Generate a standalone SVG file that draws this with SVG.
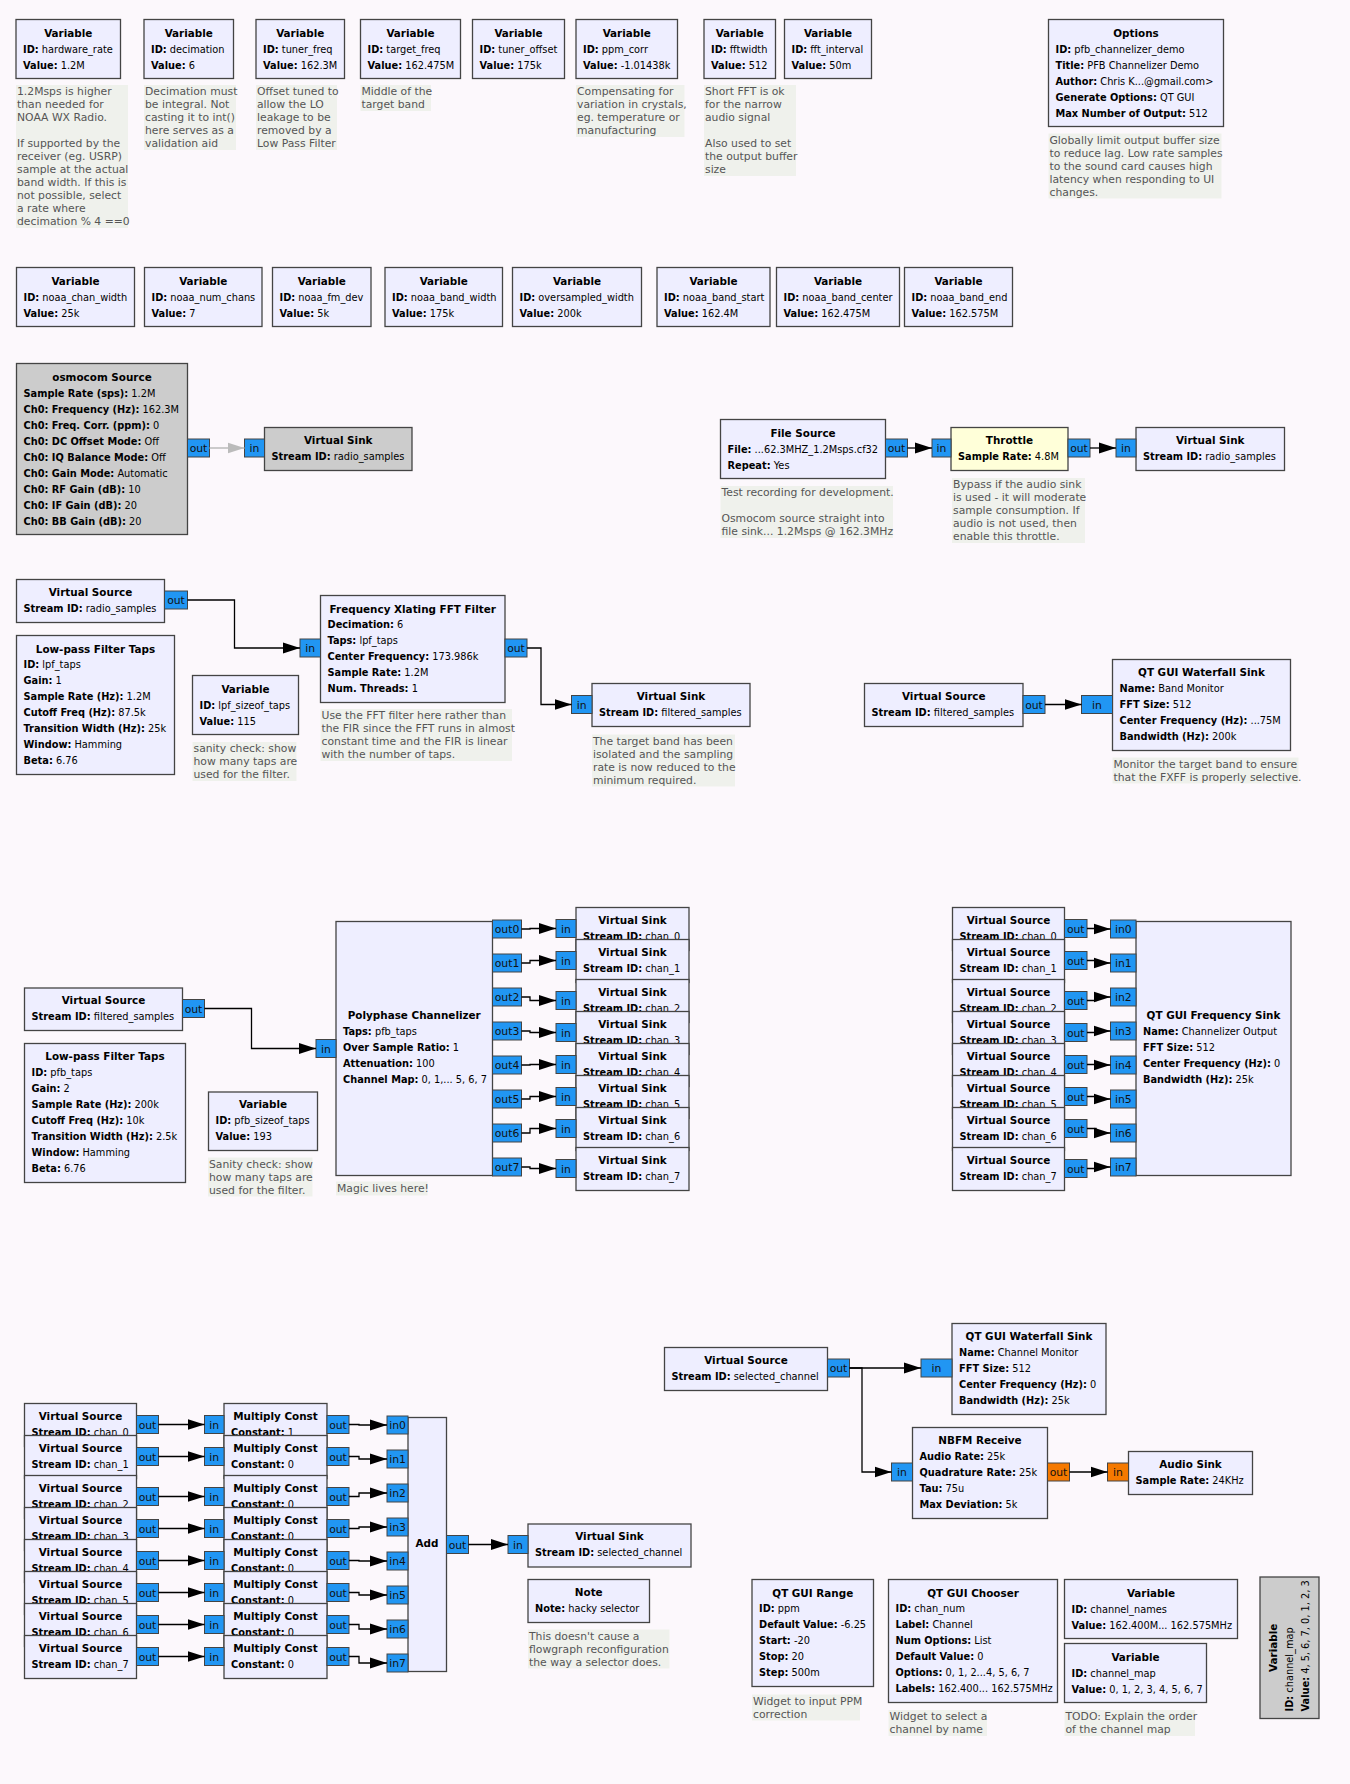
<svg xmlns="http://www.w3.org/2000/svg" width="1350" height="1784" viewBox="0 0 1350 1784">
<defs>
<style>
text{font-family:"DejaVu Sans","Liberation Sans",sans-serif}
.b{fill:#eeeeff;stroke:#444;stroke-width:1.3}
.g{fill:#cccccc;stroke:#444;stroke-width:1.3}
.y{fill:#ffffd9;stroke:#444;stroke-width:1.3}
.t{font-size:10.4px;font-weight:bold;text-anchor:middle;fill:#000}
.p{font-size:9.8px;fill:#000}
.k{font-weight:bold}
.pt{fill:#2196f3;stroke:#444;stroke-width:1}
.po{fill:#f57900;stroke:#444;stroke-width:1}
.pl{font-size:10.8px;text-anchor:middle;fill:#111}
.cb{fill:#eff1ec}
.ct{font-size:10.8px;fill:#555}
.w{fill:none;stroke:#000;stroke-width:1.3;marker-end:url(#a)}
.wg{fill:none;stroke:#bbb;stroke-width:1.3;marker-end:url(#ag)}
</style>
<marker id="a" markerUnits="userSpaceOnUse" markerWidth="18" markerHeight="12" refX="17" refY="6" orient="auto" viewBox="0 0 18 12"><path d="M0,0.5 L17,6 L0,11.5 z" fill="#000"/></marker>
<marker id="ag" markerUnits="userSpaceOnUse" markerWidth="18" markerHeight="12" refX="17" refY="6" orient="auto" viewBox="0 0 18 12"><path d="M0,0.5 L17,6 L0,11.5 z" fill="#bbb"/></marker>
</defs>
<rect x="0" y="0" width="1350" height="1784" fill="#fcf8fc"/>

<!-- Row 1 variables -->
<g id="var_hardware_rate"><rect class="b" x="16" y="19.5" width="104.5" height="59"/><text class="t" x="68.25" y="36.5">Variable</text><text class="p" x="23" y="52.5"><tspan class="k">ID:</tspan> hardware_rate</text><text class="p" x="23" y="68.5"><tspan class="k">Value:</tspan> 1.2M</text></g>
<g id="var_decimation"><rect class="b" x="144" y="19.5" width="89.5" height="59"/><text class="t" x="188.75" y="36.5">Variable</text><text class="p" x="151" y="52.5"><tspan class="k">ID:</tspan> decimation</text><text class="p" x="151" y="68.5"><tspan class="k">Value:</tspan> 6</text></g>
<g id="var_tuner_freq"><rect class="b" x="256" y="19.5" width="88.5" height="59"/><text class="t" x="300.25" y="36.5">Variable</text><text class="p" x="263" y="52.5"><tspan class="k">ID:</tspan> tuner_freq</text><text class="p" x="263" y="68.5"><tspan class="k">Value:</tspan> 162.3M</text></g>
<g id="var_target_freq"><rect class="b" x="360.5" y="19.5" width="100" height="59"/><text class="t" x="410.5" y="36.5">Variable</text><text class="p" x="367.5" y="52.5"><tspan class="k">ID:</tspan> target_freq</text><text class="p" x="367.5" y="68.5"><tspan class="k">Value:</tspan> 162.475M</text></g>
<g id="var_tuner_offset"><rect class="b" x="472.5" y="19.5" width="92" height="59"/><text class="t" x="518.5" y="36.5">Variable</text><text class="p" x="479.5" y="52.5"><tspan class="k">ID:</tspan> tuner_offset</text><text class="p" x="479.5" y="68.5"><tspan class="k">Value:</tspan> 175k</text></g>
<g id="var_ppm_corr"><rect class="b" x="576" y="19.5" width="101.5" height="59"/><text class="t" x="626.75" y="36.5">Variable</text><text class="p" x="583" y="52.5"><tspan class="k">ID:</tspan> ppm_corr</text><text class="p" x="583" y="68.5"><tspan class="k">Value:</tspan> -1.01438k</text></g>
<g id="var_fftwidth"><rect class="b" x="704" y="19.5" width="71.5" height="59"/><text class="t" x="739.75" y="36.5">Variable</text><text class="p" x="711" y="52.5"><tspan class="k">ID:</tspan> fftwidth</text><text class="p" x="711" y="68.5"><tspan class="k">Value:</tspan> 512</text></g>
<g id="var_fft_interval"><rect class="b" x="784.5" y="19.5" width="87" height="59"/><text class="t" x="828" y="36.5">Variable</text><text class="p" x="791.5" y="52.5"><tspan class="k">ID:</tspan> fft_interval</text><text class="p" x="791.5" y="68.5"><tspan class="k">Value:</tspan> 50m</text></g>
<g id="options"><rect class="b" x="1048.5" y="19.5" width="175" height="107"/><text class="t" x="1136" y="36.5">Options</text><text class="p" x="1055.5" y="52.5"><tspan class="k">ID:</tspan> pfb_channelizer_demo</text><text class="p" x="1055.5" y="68.5"><tspan class="k">Title:</tspan> PFB Channelizer Demo</text><text class="p" x="1055.5" y="84.5"><tspan class="k">Author:</tspan> Chris K...@gmail.com&gt;</text><text class="p" x="1055.5" y="100.5"><tspan class="k">Generate Options:</tspan> QT GUI</text><text class="p" x="1055.5" y="116.5"><tspan class="k">Max Number of Output:</tspan> 512</text></g>

<!-- Row 1 comments -->
<g id="cmt_hardware_rate"><rect class="cb" x="16" y="85" width="112" height="143"/><text class="ct"><tspan x="17" y="95">1.2Msps is higher</tspan><tspan x="17" y="108">than needed for</tspan><tspan x="17" y="121">NOAA WX Radio.</tspan><tspan x="17" y="147">If supported by the</tspan><tspan x="17" y="160">receiver (eg. USRP)</tspan><tspan x="17" y="173">sample at the actual</tspan><tspan x="17" y="186">band width. If this is</tspan><tspan x="17" y="199">not possible, select</tspan><tspan x="17" y="212">a rate where</tspan><tspan x="17" y="225">decimation % 4 ==0</tspan></text></g>
<g id="cmt_decimation"><rect class="cb" x="144" y="85" width="92" height="65"/><text class="ct"><tspan x="145" y="95">Decimation must</tspan><tspan x="145" y="108">be integral. Not</tspan><tspan x="145" y="121">casting it to int()</tspan><tspan x="145" y="134">here serves as a</tspan><tspan x="145" y="147">validation aid</tspan></text></g>
<g id="cmt_tuner_freq"><rect class="cb" x="256" y="85" width="81" height="65"/><text class="ct"><tspan x="257" y="95">Offset tuned to</tspan><tspan x="257" y="108">allow the LO</tspan><tspan x="257" y="121">leakage to be</tspan><tspan x="257" y="134">removed by a</tspan><tspan x="257" y="147">Low Pass Filter</tspan></text></g>
<g id="cmt_target_freq"><rect class="cb" x="360.5" y="85" width="70.5" height="26"/><text class="ct"><tspan x="361.5" y="95">Middle of the</tspan><tspan x="361.5" y="108">target band</tspan></text></g>
<g id="cmt_ppm_corr"><rect class="cb" x="576" y="85" width="108.5" height="52"/><text class="ct"><tspan x="577" y="95">Compensating for</tspan><tspan x="577" y="108">variation in crystals,</tspan><tspan x="577" y="121">eg. temperature or</tspan><tspan x="577" y="134">manufacturing</tspan></text></g>
<g id="cmt_fftwidth"><rect class="cb" x="704" y="85" width="92" height="91"/><text class="ct"><tspan x="705" y="95">Short FFT is ok</tspan><tspan x="705" y="108">for the narrow</tspan><tspan x="705" y="121">audio signal</tspan><tspan x="705" y="147">Also used to set</tspan><tspan x="705" y="160">the output buffer</tspan><tspan x="705" y="173">size</tspan></text></g>
<g id="cmt_options"><rect class="cb" x="1048.5" y="133.5" width="173" height="65"/><text class="ct"><tspan x="1049.5" y="143.5">Globally limit output buffer size</tspan><tspan x="1049.5" y="156.5">to reduce lag. Low rate samples</tspan><tspan x="1049.5" y="169.5">to the sound card causes high</tspan><tspan x="1049.5" y="182.5">latency when responding to UI</tspan><tspan x="1049.5" y="195.5">changes.</tspan></text></g>

<!-- Row 2 variables -->
<g id="var_noaa_chan_width"><rect class="b" x="16.5" y="267.5" width="118" height="59"/><text class="t" x="75.5" y="284.5">Variable</text><text class="p" x="23.5" y="300.5"><tspan class="k">ID:</tspan> noaa_chan_width</text><text class="p" x="23.5" y="316.5"><tspan class="k">Value:</tspan> 25k</text></g>
<g id="var_noaa_num_chans"><rect class="b" x="144.5" y="267.5" width="117.5" height="59"/><text class="t" x="203.25" y="284.5">Variable</text><text class="p" x="151.5" y="300.5"><tspan class="k">ID:</tspan> noaa_num_chans</text><text class="p" x="151.5" y="316.5"><tspan class="k">Value:</tspan> 7</text></g>
<g id="var_noaa_fm_dev"><rect class="b" x="272.5" y="267.5" width="98.5" height="59"/><text class="t" x="321.75" y="284.5">Variable</text><text class="p" x="279.5" y="300.5"><tspan class="k">ID:</tspan> noaa_fm_dev</text><text class="p" x="279.5" y="316.5"><tspan class="k">Value:</tspan> 5k</text></g>
<g id="var_noaa_band_width"><rect class="b" x="385" y="267.5" width="117.5" height="59"/><text class="t" x="443.75" y="284.5">Variable</text><text class="p" x="392" y="300.5"><tspan class="k">ID:</tspan> noaa_band_width</text><text class="p" x="392" y="316.5"><tspan class="k">Value:</tspan> 175k</text></g>
<g id="var_oversampled_width"><rect class="b" x="512.5" y="267.5" width="129" height="59"/><text class="t" x="577" y="284.5">Variable</text><text class="p" x="519.5" y="300.5"><tspan class="k">ID:</tspan> oversampled_width</text><text class="p" x="519.5" y="316.5"><tspan class="k">Value:</tspan> 200k</text></g>
<g id="var_noaa_band_start"><rect class="b" x="657" y="267.5" width="113" height="59"/><text class="t" x="713.5" y="284.5">Variable</text><text class="p" x="664" y="300.5"><tspan class="k">ID:</tspan> noaa_band_start</text><text class="p" x="664" y="316.5"><tspan class="k">Value:</tspan> 162.4M</text></g>
<g id="var_noaa_band_center"><rect class="b" x="776.5" y="267.5" width="123" height="59"/><text class="t" x="838" y="284.5">Variable</text><text class="p" x="783.5" y="300.5"><tspan class="k">ID:</tspan> noaa_band_center</text><text class="p" x="783.5" y="316.5"><tspan class="k">Value:</tspan> 162.475M</text></g>
<g id="var_noaa_band_end"><rect class="b" x="904.5" y="267.5" width="108" height="59"/><text class="t" x="958.5" y="284.5">Variable</text><text class="p" x="911.5" y="300.5"><tspan class="k">ID:</tspan> noaa_band_end</text><text class="p" x="911.5" y="316.5"><tspan class="k">Value:</tspan> 162.575M</text></g>

<!-- Source section -->
<g id="osmocom_source"><rect class="g" x="16.5" y="363.5" width="171" height="171"/><text class="t" x="102" y="380.5">osmocom Source</text>
<text class="p" x="23.5" y="396.5"><tspan class="k">Sample Rate (sps):</tspan> 1.2M</text>
<text class="p" x="23.5" y="412.5"><tspan class="k">Ch0: Frequency (Hz):</tspan> 162.3M</text>
<text class="p" x="23.5" y="428.5"><tspan class="k">Ch0: Freq. Corr. (ppm):</tspan> 0</text>
<text class="p" x="23.5" y="444.5"><tspan class="k">Ch0: DC Offset Mode:</tspan> Off</text>
<text class="p" x="23.5" y="460.5"><tspan class="k">Ch0: IQ Balance Mode:</tspan> Off</text>
<text class="p" x="23.5" y="476.5"><tspan class="k">Ch0: Gain Mode:</tspan> Automatic</text>
<text class="p" x="23.5" y="492.5"><tspan class="k">Ch0: RF Gain (dB):</tspan> 10</text>
<text class="p" x="23.5" y="508.5"><tspan class="k">Ch0: IF Gain (dB):</tspan> 20</text>
<text class="p" x="23.5" y="524.5"><tspan class="k">Ch0: BB Gain (dB):</tspan> 20</text>
<rect class="pt" x="187.5" y="439" width="22" height="18"/><text class="pl" x="198.5" y="452">out</text></g>
<g id="vsink_radio_samples_disabled"><rect class="g" x="264.5" y="427.5" width="147.5" height="43"/><text class="t" x="338.25" y="444">Virtual Sink</text><text class="p" x="271.5" y="460"><tspan class="k">Stream ID:</tspan> radio_samples</text><rect class="pt" x="244.5" y="439" width="20" height="18"/><text class="pl" x="254.5" y="452">in</text></g>

<g id="file_source"><rect class="b" x="720.5" y="419.5" width="165" height="59"/><text class="t" x="803" y="436.5">File Source</text><text class="p" x="727.5" y="452.5"><tspan class="k">File:</tspan> ...62.3MHZ_1.2Msps.cf32</text><text class="p" x="727.5" y="468.5"><tspan class="k">Repeat:</tspan> Yes</text><rect class="pt" x="885.5" y="439" width="22" height="18"/><text class="pl" x="896.5" y="452">out</text></g>
<g id="throttle"><rect class="y" x="951" y="427.5" width="117" height="43"/><text class="t" x="1009.5" y="444">Throttle</text><text class="p" x="958" y="460"><tspan class="k">Sample Rate:</tspan> 4.8M</text><rect class="pt" x="932" y="439" width="19" height="18"/><text class="pl" x="941.5" y="452">in</text><rect class="pt" x="1068" y="439" width="22" height="18"/><text class="pl" x="1079" y="452">out</text></g>
<g id="vsink_radio_samples"><rect class="b" x="1136" y="427.5" width="148.5" height="43"/><text class="t" x="1210.25" y="444">Virtual Sink</text><text class="p" x="1143" y="460"><tspan class="k">Stream ID:</tspan> radio_samples</text><rect class="pt" x="1116" y="439" width="20" height="18"/><text class="pl" x="1126" y="452">in</text></g>
<g id="cmt_file_source"><rect class="cb" x="720.5" y="486" width="172.5" height="52"/><text class="ct"><tspan x="721.5" y="496">Test recording for development.</tspan><tspan x="721.5" y="522">Osmocom source straight into</tspan><tspan x="721.5" y="535">file sink... 1.2Msps @ 162.3MHz</tspan></text></g>
<g id="cmt_throttle"><rect class="cb" x="952" y="478" width="133" height="65"/><text class="ct"><tspan x="953" y="488">Bypass if the audio sink</tspan><tspan x="953" y="501">is used - it will moderate</tspan><tspan x="953" y="514">sample consumption. If</tspan><tspan x="953" y="527">audio is not used, then</tspan><tspan x="953" y="540">enable this throttle.</tspan></text></g>

<!-- Filter section -->
<g id="vsource_radio_samples"><rect class="b" x="16.5" y="579.5" width="148" height="43"/><text class="t" x="90.5" y="596">Virtual Source</text><text class="p" x="23.5" y="612"><tspan class="k">Stream ID:</tspan> radio_samples</text><rect class="pt" x="164.5" y="591" width="23" height="18"/><text class="pl" x="176" y="604">out</text></g>
<g id="fxff"><rect class="b" x="320.5" y="595.5" width="184.5" height="107"/><text class="t" x="412.75" y="612.5">Frequency Xlating FFT Filter</text>
<text class="p" x="327.5" y="628"><tspan class="k">Decimation:</tspan> 6</text>
<text class="p" x="327.5" y="644"><tspan class="k">Taps:</tspan> lpf_taps</text>
<text class="p" x="327.5" y="660"><tspan class="k">Center Frequency:</tspan> 173.986k</text>
<text class="p" x="327.5" y="676"><tspan class="k">Sample Rate:</tspan> 1.2M</text>
<text class="p" x="327.5" y="692"><tspan class="k">Num. Threads:</tspan> 1</text>
<rect class="pt" x="300" y="639" width="20.5" height="18"/><text class="pl" x="310.25" y="652">in</text><rect class="pt" x="505" y="639" width="22" height="18"/><text class="pl" x="516" y="652">out</text></g>
<g id="vsink_filtered_samples"><rect class="b" x="592" y="683.5" width="158" height="43"/><text class="t" x="671" y="700">Virtual Sink</text><text class="p" x="599" y="716"><tspan class="k">Stream ID:</tspan> filtered_samples</text><rect class="pt" x="571.5" y="695.5" width="20.5" height="18"/><text class="pl" x="581.75" y="708.5">in</text></g>
<g id="cmt_vsink_filtered"><rect class="cb" x="592" y="734.5" width="143" height="52"/><text class="ct"><tspan x="593" y="744.5">The target band has been</tspan><tspan x="593" y="757.5">isolated and the sampling</tspan><tspan x="593" y="770.5">rate is now reduced to the</tspan><tspan x="593" y="783.5">minimum required.</tspan></text></g>
<g id="cmt_fxff"><rect class="cb" x="320.5" y="709" width="191.5" height="52"/><text class="ct"><tspan x="321.5" y="719">Use the FFT filter here rather than</tspan><tspan x="321.5" y="732">the FIR since the FFT runs in almost</tspan><tspan x="321.5" y="745">constant time and the FIR is linear</tspan><tspan x="321.5" y="758">with the number of taps.</tspan></text></g>
<g id="lpf_taps"><rect class="b" x="16.5" y="635.5" width="158" height="139"/><text class="t" x="95.5" y="652.5">Low-pass Filter Taps</text>
<text class="p" x="23.5" y="668"><tspan class="k">ID:</tspan> lpf_taps</text>
<text class="p" x="23.5" y="684"><tspan class="k">Gain:</tspan> 1</text>
<text class="p" x="23.5" y="700"><tspan class="k">Sample Rate (Hz):</tspan> 1.2M</text>
<text class="p" x="23.5" y="716"><tspan class="k">Cutoff Freq (Hz):</tspan> 87.5k</text>
<text class="p" x="23.5" y="732"><tspan class="k">Transition Width (Hz):</tspan> 25k</text>
<text class="p" x="23.5" y="748"><tspan class="k">Window:</tspan> Hamming</text>
<text class="p" x="23.5" y="764"><tspan class="k">Beta:</tspan> 6.76</text></g>
<g id="var_lpf_sizeof_taps"><rect class="b" x="192.5" y="675.5" width="106" height="59"/><text class="t" x="245.5" y="692.5">Variable</text><text class="p" x="199.5" y="708.5"><tspan class="k">ID:</tspan> lpf_sizeof_taps</text><text class="p" x="199.5" y="724.5"><tspan class="k">Value:</tspan> 115</text></g>
<g id="cmt_lpf_sizeof"><rect class="cb" x="192.5" y="742" width="104" height="39"/><text class="ct"><tspan x="193.5" y="752">sanity check: show</tspan><tspan x="193.5" y="765">how many taps are</tspan><tspan x="193.5" y="778">used for the filter.</tspan></text></g>

<g id="vsource_filtered_samples_1"><rect class="b" x="864.5" y="683.5" width="158.5" height="43"/><text class="t" x="943.75" y="700">Virtual Source</text><text class="p" x="871.5" y="716"><tspan class="k">Stream ID:</tspan> filtered_samples</text><rect class="pt" x="1023" y="695.5" width="22" height="18"/><text class="pl" x="1034" y="708.5">out</text></g>
<g id="waterfall_band"><rect class="b" x="1112.5" y="659.5" width="178" height="91"/><text class="t" x="1201.5" y="676">QT GUI Waterfall Sink</text>
<text class="p" x="1119.5" y="692"><tspan class="k">Name:</tspan> Band Monitor</text>
<text class="p" x="1119.5" y="708"><tspan class="k">FFT Size:</tspan> 512</text>
<text class="p" x="1119.5" y="724"><tspan class="k">Center Frequency (Hz):</tspan> ...75M</text>
<text class="p" x="1119.5" y="740"><tspan class="k">Bandwidth (Hz):</tspan> 200k</text>
<rect class="pt" x="1081.5" y="695.5" width="31" height="18"/><text class="pl" x="1097" y="708.5">in</text></g>
<g id="cmt_waterfall_band"><rect class="cb" x="1112.5" y="757.5" width="186" height="26"/><text class="ct"><tspan x="1113.5" y="767.5">Monitor the target band to ensure</tspan><tspan x="1113.5" y="780.5">that the FXFF is properly selective.</tspan></text></g>

<!-- Channelizer section -->
<g id="vsource_filtered_samples_2"><rect class="b" x="24.5" y="988" width="158" height="42.5"/><text class="t" x="103.5" y="1004">Virtual Source</text><text class="p" x="31.5" y="1020"><tspan class="k">Stream ID:</tspan> filtered_samples</text><rect class="pt" x="182.5" y="999.5" width="22" height="18"/><text class="pl" x="193.5" y="1012.5">out</text></g>
<g id="pfb_channelizer"><rect class="b" x="336" y="921.5" width="156.5" height="254"/><text class="t" x="414.25" y="1019">Polyphase Channelizer</text>
<text class="p" x="343" y="1035"><tspan class="k">Taps:</tspan> pfb_taps</text>
<text class="p" x="343" y="1051"><tspan class="k">Over Sample Ratio:</tspan> 1</text>
<text class="p" x="343" y="1067"><tspan class="k">Attenuation:</tspan> 100</text>
<text class="p" x="343" y="1083"><tspan class="k">Channel Map:</tspan> 0, 1,... 5, 6, 7</text>
<rect class="pt" x="316" y="1039.5" width="20" height="18"/><text class="pl" x="326" y="1052.5">in</text>
<rect class="pt" x="492.5" y="920" width="29" height="18"/><text class="pl" x="507" y="933">out0</text>
<rect class="pt" x="492.5" y="954" width="29" height="18"/><text class="pl" x="507" y="967">out1</text>
<rect class="pt" x="492.5" y="988" width="29" height="18"/><text class="pl" x="507" y="1001">out2</text>
<rect class="pt" x="492.5" y="1022" width="29" height="18"/><text class="pl" x="507" y="1035">out3</text>
<rect class="pt" x="492.5" y="1056" width="29" height="18"/><text class="pl" x="507" y="1069">out4</text>
<rect class="pt" x="492.5" y="1090" width="29" height="18"/><text class="pl" x="507" y="1103">out5</text>
<rect class="pt" x="492.5" y="1124" width="29" height="18"/><text class="pl" x="507" y="1137">out6</text>
<rect class="pt" x="492.5" y="1158" width="29" height="18"/><text class="pl" x="507" y="1171">out7</text></g>
<g id="cmt_pfb"><rect class="cb" x="336" y="1181.5" width="91.5" height="14"/><text class="ct" x="337" y="1192">Magic lives here!</text></g>
<g id="vsink_chan_0"><rect class="b" x="576" y="907.5" width="113" height="43"/><text class="t" x="632.5" y="924">Virtual Sink</text><text class="p" x="583" y="940"><tspan class="k">Stream ID:</tspan> chan_0</text><rect class="pt" x="556" y="919.5" width="20" height="18"/><text class="pl" x="566" y="932.5">in</text></g>
<g id="vsink_chan_1"><rect class="b" x="576" y="939.5" width="113" height="43"/><text class="t" x="632.5" y="956">Virtual Sink</text><text class="p" x="583" y="972"><tspan class="k">Stream ID:</tspan> chan_1</text><rect class="pt" x="556" y="951.5" width="20" height="18"/><text class="pl" x="566" y="964.5">in</text></g>
<g id="vsink_chan_2"><rect class="b" x="576" y="979.5" width="113" height="43"/><text class="t" x="632.5" y="996">Virtual Sink</text><text class="p" x="583" y="1012"><tspan class="k">Stream ID:</tspan> chan_2</text><rect class="pt" x="556" y="991.5" width="20" height="18"/><text class="pl" x="566" y="1004.5">in</text></g>
<g id="vsink_chan_3"><rect class="b" x="576" y="1011.5" width="113" height="43"/><text class="t" x="632.5" y="1028">Virtual Sink</text><text class="p" x="583" y="1044"><tspan class="k">Stream ID:</tspan> chan_3</text><rect class="pt" x="556" y="1023.5" width="20" height="18"/><text class="pl" x="566" y="1036.5">in</text></g>
<g id="vsink_chan_4"><rect class="b" x="576" y="1043.5" width="113" height="43"/><text class="t" x="632.5" y="1060">Virtual Sink</text><text class="p" x="583" y="1076"><tspan class="k">Stream ID:</tspan> chan_4</text><rect class="pt" x="556" y="1055.5" width="20" height="18"/><text class="pl" x="566" y="1068.5">in</text></g>
<g id="vsink_chan_5"><rect class="b" x="576" y="1075.5" width="113" height="43"/><text class="t" x="632.5" y="1092">Virtual Sink</text><text class="p" x="583" y="1108"><tspan class="k">Stream ID:</tspan> chan_5</text><rect class="pt" x="556" y="1087.5" width="20" height="18"/><text class="pl" x="566" y="1100.5">in</text></g>
<g id="vsink_chan_6"><rect class="b" x="576" y="1107.5" width="113" height="43"/><text class="t" x="632.5" y="1124">Virtual Sink</text><text class="p" x="583" y="1140"><tspan class="k">Stream ID:</tspan> chan_6</text><rect class="pt" x="556" y="1119.5" width="20" height="18"/><text class="pl" x="566" y="1132.5">in</text></g>
<g id="vsink_chan_7"><rect class="b" x="576" y="1147.5" width="113" height="43"/><text class="t" x="632.5" y="1164">Virtual Sink</text><text class="p" x="583" y="1180"><tspan class="k">Stream ID:</tspan> chan_7</text><rect class="pt" x="556" y="1159.5" width="20" height="18"/><text class="pl" x="566" y="1172.5">in</text></g>
<g id="pfb_taps"><rect class="b" x="24.5" y="1043.5" width="161" height="139"/><text class="t" x="105" y="1060">Low-pass Filter Taps</text>
<text class="p" x="31.5" y="1076"><tspan class="k">ID:</tspan> pfb_taps</text>
<text class="p" x="31.5" y="1092"><tspan class="k">Gain:</tspan> 2</text>
<text class="p" x="31.5" y="1108"><tspan class="k">Sample Rate (Hz):</tspan> 200k</text>
<text class="p" x="31.5" y="1124"><tspan class="k">Cutoff Freq (Hz):</tspan> 10k</text>
<text class="p" x="31.5" y="1140"><tspan class="k">Transition Width (Hz):</tspan> 2.5k</text>
<text class="p" x="31.5" y="1156"><tspan class="k">Window:</tspan> Hamming</text>
<text class="p" x="31.5" y="1172"><tspan class="k">Beta:</tspan> 6.76</text></g>
<g id="var_pfb_sizeof_taps"><rect class="b" x="208.5" y="1092" width="109" height="58.5"/><text class="t" x="263" y="1108">Variable</text><text class="p" x="215.5" y="1124"><tspan class="k">ID:</tspan> pfb_sizeof_taps</text><text class="p" x="215.5" y="1140"><tspan class="k">Value:</tspan> 193</text></g>
<g id="cmt_pfb_sizeof"><rect class="cb" x="208" y="1157.5" width="104.5" height="39"/><text class="ct"><tspan x="209" y="1167.5">Sanity check: show</tspan><tspan x="209" y="1180.5">how many taps are</tspan><tspan x="209" y="1193.5">used for the filter.</tspan></text></g>

<!-- Frequency sink section -->
<g id="vsource_chan_0_a"><rect class="b" x="952.5" y="907.5" width="112" height="43"/><text class="t" x="1008.5" y="924">Virtual Source</text><text class="p" x="959.5" y="940"><tspan class="k">Stream ID:</tspan> chan_0</text><rect class="pt" x="1064.5" y="919.5" width="22.5" height="18"/><text class="pl" x="1075.75" y="932.5">out</text></g>
<g id="vsource_chan_1_a"><rect class="b" x="952.5" y="939.5" width="112" height="43"/><text class="t" x="1008.5" y="956">Virtual Source</text><text class="p" x="959.5" y="972"><tspan class="k">Stream ID:</tspan> chan_1</text><rect class="pt" x="1064.5" y="951.5" width="22.5" height="18"/><text class="pl" x="1075.75" y="964.5">out</text></g>
<g id="vsource_chan_2_a"><rect class="b" x="952.5" y="979.5" width="112" height="43"/><text class="t" x="1008.5" y="996">Virtual Source</text><text class="p" x="959.5" y="1012"><tspan class="k">Stream ID:</tspan> chan_2</text><rect class="pt" x="1064.5" y="991.5" width="22.5" height="18"/><text class="pl" x="1075.75" y="1004.5">out</text></g>
<g id="vsource_chan_3_a"><rect class="b" x="952.5" y="1011.5" width="112" height="43"/><text class="t" x="1008.5" y="1028">Virtual Source</text><text class="p" x="959.5" y="1044"><tspan class="k">Stream ID:</tspan> chan_3</text><rect class="pt" x="1064.5" y="1023.5" width="22.5" height="18"/><text class="pl" x="1075.75" y="1036.5">out</text></g>
<g id="vsource_chan_4_a"><rect class="b" x="952.5" y="1043.5" width="112" height="43"/><text class="t" x="1008.5" y="1060">Virtual Source</text><text class="p" x="959.5" y="1076"><tspan class="k">Stream ID:</tspan> chan_4</text><rect class="pt" x="1064.5" y="1055.5" width="22.5" height="18"/><text class="pl" x="1075.75" y="1068.5">out</text></g>
<g id="vsource_chan_5_a"><rect class="b" x="952.5" y="1075.5" width="112" height="43"/><text class="t" x="1008.5" y="1092">Virtual Source</text><text class="p" x="959.5" y="1108"><tspan class="k">Stream ID:</tspan> chan_5</text><rect class="pt" x="1064.5" y="1087.5" width="22.5" height="18"/><text class="pl" x="1075.75" y="1100.5">out</text></g>
<g id="vsource_chan_6_a"><rect class="b" x="952.5" y="1107.5" width="112" height="43"/><text class="t" x="1008.5" y="1124">Virtual Source</text><text class="p" x="959.5" y="1140"><tspan class="k">Stream ID:</tspan> chan_6</text><rect class="pt" x="1064.5" y="1119.5" width="22.5" height="18"/><text class="pl" x="1075.75" y="1132.5">out</text></g>
<g id="vsource_chan_7_a"><rect class="b" x="952.5" y="1147.5" width="112" height="43"/><text class="t" x="1008.5" y="1164">Virtual Source</text><text class="p" x="959.5" y="1180"><tspan class="k">Stream ID:</tspan> chan_7</text><rect class="pt" x="1064.5" y="1159.5" width="22.5" height="18"/><text class="pl" x="1075.75" y="1172.5">out</text></g>
<g id="freq_sink"><rect class="b" x="1136" y="921.5" width="155" height="254"/><text class="t" x="1213.5" y="1019">QT GUI Frequency Sink</text>
<text class="p" x="1143" y="1035"><tspan class="k">Name:</tspan> Channelizer Output</text>
<text class="p" x="1143" y="1051"><tspan class="k">FFT Size:</tspan> 512</text>
<text class="p" x="1143" y="1067"><tspan class="k">Center Frequency (Hz):</tspan> 0</text>
<text class="p" x="1143" y="1083"><tspan class="k">Bandwidth (Hz):</tspan> 25k</text>
<rect class="pt" x="1110.5" y="920" width="25.5" height="18"/><text class="pl" x="1123.25" y="933">in0</text>
<rect class="pt" x="1110.5" y="954" width="25.5" height="18"/><text class="pl" x="1123.25" y="967">in1</text>
<rect class="pt" x="1110.5" y="988" width="25.5" height="18"/><text class="pl" x="1123.25" y="1001">in2</text>
<rect class="pt" x="1110.5" y="1022" width="25.5" height="18"/><text class="pl" x="1123.25" y="1035">in3</text>
<rect class="pt" x="1110.5" y="1056" width="25.5" height="18"/><text class="pl" x="1123.25" y="1069">in4</text>
<rect class="pt" x="1110.5" y="1090" width="25.5" height="18"/><text class="pl" x="1123.25" y="1103">in5</text>
<rect class="pt" x="1110.5" y="1124" width="25.5" height="18"/><text class="pl" x="1123.25" y="1137">in6</text>
<rect class="pt" x="1110.5" y="1158" width="25.5" height="18"/><text class="pl" x="1123.25" y="1171">in7</text></g>

<!-- Selector section -->
<g id="vsource_chan_0_b"><rect class="b" x="24.5" y="1403.5" width="112" height="43"/><text class="t" x="80.5" y="1420">Virtual Source</text><text class="p" x="31.5" y="1436"><tspan class="k">Stream ID:</tspan> chan_0</text><rect class="pt" x="136.5" y="1415.5" width="22" height="18"/><text class="pl" x="147.5" y="1428.5">out</text></g>
<g id="mult_0"><rect class="b" x="224" y="1403.5" width="103" height="43"/><text class="t" x="275.5" y="1420">Multiply Const</text><text class="p" x="231" y="1436"><tspan class="k">Constant:</tspan> 1</text><rect class="pt" x="204.5" y="1415.5" width="19.5" height="18"/><text class="pl" x="214.25" y="1428.5">in</text><rect class="pt" x="327" y="1415.5" width="22" height="18"/><text class="pl" x="338" y="1428.5">out</text></g>
<g id="vsource_chan_1_b"><rect class="b" x="24.5" y="1435.5" width="112" height="43"/><text class="t" x="80.5" y="1452">Virtual Source</text><text class="p" x="31.5" y="1468"><tspan class="k">Stream ID:</tspan> chan_1</text><rect class="pt" x="136.5" y="1447.5" width="22" height="18"/><text class="pl" x="147.5" y="1460.5">out</text></g>
<g id="mult_1"><rect class="b" x="224" y="1435.5" width="103" height="43"/><text class="t" x="275.5" y="1452">Multiply Const</text><text class="p" x="231" y="1468"><tspan class="k">Constant:</tspan> 0</text><rect class="pt" x="204.5" y="1447.5" width="19.5" height="18"/><text class="pl" x="214.25" y="1460.5">in</text><rect class="pt" x="327" y="1447.5" width="22" height="18"/><text class="pl" x="338" y="1460.5">out</text></g>
<g id="vsource_chan_2_b"><rect class="b" x="24.5" y="1475.5" width="112" height="43"/><text class="t" x="80.5" y="1492">Virtual Source</text><text class="p" x="31.5" y="1508"><tspan class="k">Stream ID:</tspan> chan_2</text><rect class="pt" x="136.5" y="1487.5" width="22" height="18"/><text class="pl" x="147.5" y="1500.5">out</text></g>
<g id="mult_2"><rect class="b" x="224" y="1475.5" width="103" height="43"/><text class="t" x="275.5" y="1492">Multiply Const</text><text class="p" x="231" y="1508"><tspan class="k">Constant:</tspan> 0</text><rect class="pt" x="204.5" y="1487.5" width="19.5" height="18"/><text class="pl" x="214.25" y="1500.5">in</text><rect class="pt" x="327" y="1487.5" width="22" height="18"/><text class="pl" x="338" y="1500.5">out</text></g>
<g id="vsource_chan_3_b"><rect class="b" x="24.5" y="1507.5" width="112" height="43"/><text class="t" x="80.5" y="1524">Virtual Source</text><text class="p" x="31.5" y="1540"><tspan class="k">Stream ID:</tspan> chan_3</text><rect class="pt" x="136.5" y="1519.5" width="22" height="18"/><text class="pl" x="147.5" y="1532.5">out</text></g>
<g id="mult_3"><rect class="b" x="224" y="1507.5" width="103" height="43"/><text class="t" x="275.5" y="1524">Multiply Const</text><text class="p" x="231" y="1540"><tspan class="k">Constant:</tspan> 0</text><rect class="pt" x="204.5" y="1519.5" width="19.5" height="18"/><text class="pl" x="214.25" y="1532.5">in</text><rect class="pt" x="327" y="1519.5" width="22" height="18"/><text class="pl" x="338" y="1532.5">out</text></g>
<g id="vsource_chan_4_b"><rect class="b" x="24.5" y="1539.5" width="112" height="43"/><text class="t" x="80.5" y="1556">Virtual Source</text><text class="p" x="31.5" y="1572"><tspan class="k">Stream ID:</tspan> chan_4</text><rect class="pt" x="136.5" y="1551.5" width="22" height="18"/><text class="pl" x="147.5" y="1564.5">out</text></g>
<g id="mult_4"><rect class="b" x="224" y="1539.5" width="103" height="43"/><text class="t" x="275.5" y="1556">Multiply Const</text><text class="p" x="231" y="1572"><tspan class="k">Constant:</tspan> 0</text><rect class="pt" x="204.5" y="1551.5" width="19.5" height="18"/><text class="pl" x="214.25" y="1564.5">in</text><rect class="pt" x="327" y="1551.5" width="22" height="18"/><text class="pl" x="338" y="1564.5">out</text></g>
<g id="vsource_chan_5_b"><rect class="b" x="24.5" y="1571.5" width="112" height="43"/><text class="t" x="80.5" y="1588">Virtual Source</text><text class="p" x="31.5" y="1604"><tspan class="k">Stream ID:</tspan> chan_5</text><rect class="pt" x="136.5" y="1583.5" width="22" height="18"/><text class="pl" x="147.5" y="1596.5">out</text></g>
<g id="mult_5"><rect class="b" x="224" y="1571.5" width="103" height="43"/><text class="t" x="275.5" y="1588">Multiply Const</text><text class="p" x="231" y="1604"><tspan class="k">Constant:</tspan> 0</text><rect class="pt" x="204.5" y="1583.5" width="19.5" height="18"/><text class="pl" x="214.25" y="1596.5">in</text><rect class="pt" x="327" y="1583.5" width="22" height="18"/><text class="pl" x="338" y="1596.5">out</text></g>
<g id="vsource_chan_6_b"><rect class="b" x="24.5" y="1603.5" width="112" height="43"/><text class="t" x="80.5" y="1620">Virtual Source</text><text class="p" x="31.5" y="1636"><tspan class="k">Stream ID:</tspan> chan_6</text><rect class="pt" x="136.5" y="1615.5" width="22" height="18"/><text class="pl" x="147.5" y="1628.5">out</text></g>
<g id="mult_6"><rect class="b" x="224" y="1603.5" width="103" height="43"/><text class="t" x="275.5" y="1620">Multiply Const</text><text class="p" x="231" y="1636"><tspan class="k">Constant:</tspan> 0</text><rect class="pt" x="204.5" y="1615.5" width="19.5" height="18"/><text class="pl" x="214.25" y="1628.5">in</text><rect class="pt" x="327" y="1615.5" width="22" height="18"/><text class="pl" x="338" y="1628.5">out</text></g>
<g id="vsource_chan_7_b"><rect class="b" x="24.5" y="1635.5" width="112" height="43"/><text class="t" x="80.5" y="1652">Virtual Source</text><text class="p" x="31.5" y="1668"><tspan class="k">Stream ID:</tspan> chan_7</text><rect class="pt" x="136.5" y="1647.5" width="22" height="18"/><text class="pl" x="147.5" y="1660.5">out</text></g>
<g id="mult_7"><rect class="b" x="224" y="1635.5" width="103" height="43"/><text class="t" x="275.5" y="1652">Multiply Const</text><text class="p" x="231" y="1668"><tspan class="k">Constant:</tspan> 0</text><rect class="pt" x="204.5" y="1647.5" width="19.5" height="18"/><text class="pl" x="214.25" y="1660.5">in</text><rect class="pt" x="327" y="1647.5" width="22" height="18"/><text class="pl" x="338" y="1660.5">out</text></g>
<g id="add"><rect class="b" x="408" y="1417.5" width="38.5" height="254"/><text class="t" x="427" y="1547">Add</text>
<rect class="pt" x="387" y="1416" width="21" height="18"/><text class="pl" x="397.5" y="1429">in0</text>
<rect class="pt" x="387" y="1450" width="21" height="18"/><text class="pl" x="397.5" y="1463">in1</text>
<rect class="pt" x="387" y="1484" width="21" height="18"/><text class="pl" x="397.5" y="1497">in2</text>
<rect class="pt" x="387" y="1518" width="21" height="18"/><text class="pl" x="397.5" y="1531">in3</text>
<rect class="pt" x="387" y="1552" width="21" height="18"/><text class="pl" x="397.5" y="1565">in4</text>
<rect class="pt" x="387" y="1586" width="21" height="18"/><text class="pl" x="397.5" y="1599">in5</text>
<rect class="pt" x="387" y="1620" width="21" height="18"/><text class="pl" x="397.5" y="1633">in6</text>
<rect class="pt" x="387" y="1654" width="21" height="18"/><text class="pl" x="397.5" y="1667">in7</text>
<rect class="pt" x="446.5" y="1535.5" width="22" height="18"/><text class="pl" x="457.5" y="1548.5">out</text></g>
<g id="vsink_selected_channel"><rect class="b" x="528" y="1524" width="163" height="43"/><text class="t" x="609.5" y="1540">Virtual Sink</text><text class="p" x="535" y="1556"><tspan class="k">Stream ID:</tspan> selected_channel</text><rect class="pt" x="508" y="1535.5" width="20" height="18"/><text class="pl" x="518" y="1548.5">in</text></g>
<g id="note"><rect class="b" x="528" y="1579.5" width="121.5" height="43"/><text class="t" x="588.75" y="1596">Note</text><text class="p" x="535" y="1612"><tspan class="k">Note:</tspan> hacky selector</text></g>
<g id="cmt_note"><rect class="cb" x="528" y="1629.5" width="141.5" height="39"/><text class="ct"><tspan x="529" y="1639.5">This doesn't cause a</tspan><tspan x="529" y="1652.5">flowgraph reconfiguration</tspan><tspan x="529" y="1665.5">the way a selector does.</tspan></text></g>

<!-- Audio section -->
<g id="vsource_selected_channel"><rect class="b" x="664.5" y="1347.5" width="163" height="43"/><text class="t" x="746" y="1364">Virtual Source</text><text class="p" x="671.5" y="1380"><tspan class="k">Stream ID:</tspan> selected_channel</text><rect class="pt" x="827.5" y="1359" width="22" height="18"/><text class="pl" x="838.5" y="1372">out</text></g>
<g id="waterfall_channel"><rect class="b" x="952" y="1323.5" width="154" height="91"/><text class="t" x="1029" y="1340">QT GUI Waterfall Sink</text>
<text class="p" x="959" y="1356"><tspan class="k">Name:</tspan> Channel Monitor</text>
<text class="p" x="959" y="1372"><tspan class="k">FFT Size:</tspan> 512</text>
<text class="p" x="959" y="1388"><tspan class="k">Center Frequency (Hz):</tspan> 0</text>
<text class="p" x="959" y="1404"><tspan class="k">Bandwidth (Hz):</tspan> 25k</text>
<rect class="pt" x="921" y="1359" width="31" height="18"/><text class="pl" x="936.5" y="1372">in</text></g>
<g id="nbfm"><rect class="b" x="912.5" y="1427.5" width="135" height="91"/><text class="t" x="980" y="1444">NBFM Receive</text>
<text class="p" x="919.5" y="1460"><tspan class="k">Audio Rate:</tspan> 25k</text>
<text class="p" x="919.5" y="1476"><tspan class="k">Quadrature Rate:</tspan> 25k</text>
<text class="p" x="919.5" y="1492"><tspan class="k">Tau:</tspan> 75u</text>
<text class="p" x="919.5" y="1508"><tspan class="k">Max Deviation:</tspan> 5k</text>
<rect class="pt" x="891.5" y="1463" width="21" height="18"/><text class="pl" x="902" y="1476">in</text>
<rect class="po" x="1047.5" y="1463" width="22" height="18"/><text class="pl" x="1058.5" y="1476">out</text></g>
<g id="audio_sink"><rect class="b" x="1128.5" y="1451.5" width="124" height="43"/><text class="t" x="1190.5" y="1468">Audio Sink</text><text class="p" x="1135.5" y="1484"><tspan class="k">Sample Rate:</tspan> 24KHz</text><rect class="po" x="1107.5" y="1463" width="21" height="18"/><text class="pl" x="1118" y="1476">in</text></g>

<!-- Bottom widgets -->
<g id="qt_range"><rect class="b" x="752" y="1579.5" width="121.5" height="107"/><text class="t" x="812.75" y="1596.5">QT GUI Range</text>
<text class="p" x="759" y="1612"><tspan class="k">ID:</tspan> ppm</text>
<text class="p" x="759" y="1628"><tspan class="k">Default Value:</tspan> -6.25</text>
<text class="p" x="759" y="1644"><tspan class="k">Start:</tspan> -20</text>
<text class="p" x="759" y="1660"><tspan class="k">Stop:</tspan> 20</text>
<text class="p" x="759" y="1676"><tspan class="k">Step:</tspan> 500m</text></g>
<g id="cmt_range"><rect class="cb" x="752" y="1694.5" width="108" height="26"/><text class="ct"><tspan x="753" y="1704.5">Widget to input PPM</tspan><tspan x="753" y="1717.5">correction</tspan></text></g>
<g id="qt_chooser"><rect class="b" x="888.5" y="1579.5" width="169" height="123"/><text class="t" x="973" y="1596.5">QT GUI Chooser</text>
<text class="p" x="895.5" y="1612"><tspan class="k">ID:</tspan> chan_num</text>
<text class="p" x="895.5" y="1628"><tspan class="k">Label:</tspan> Channel</text>
<text class="p" x="895.5" y="1644"><tspan class="k">Num Options:</tspan> List</text>
<text class="p" x="895.5" y="1660"><tspan class="k">Default Value:</tspan> 0</text>
<text class="p" x="895.5" y="1676"><tspan class="k">Options:</tspan> 0, 1, 2...4, 5, 6, 7</text>
<text class="p" x="895.5" y="1692"><tspan class="k">Labels:</tspan> 162.400... 162.575MHz</text></g>
<g id="cmt_chooser"><rect class="cb" x="888.5" y="1710" width="98.5" height="26"/><text class="ct"><tspan x="889.5" y="1720">Widget to select a</tspan><tspan x="889.5" y="1733">channel by name</tspan></text></g>
<g id="var_channel_names"><rect class="b" x="1064.5" y="1579.5" width="173" height="59"/><text class="t" x="1151" y="1596.5">Variable</text><text class="p" x="1071.5" y="1612.5"><tspan class="k">ID:</tspan> channel_names</text><text class="p" x="1071.5" y="1628.5"><tspan class="k">Value:</tspan> 162.400M... 162.575MHz</text></g>
<g id="var_channel_map"><rect class="b" x="1064.5" y="1643.5" width="142" height="59"/><text class="t" x="1135.5" y="1660.5">Variable</text><text class="p" x="1071.5" y="1676.5"><tspan class="k">ID:</tspan> channel_map</text><text class="p" x="1071.5" y="1692.5"><tspan class="k">Value:</tspan> 0, 1, 2, 3, 4, 5, 6, 7</text></g>
<g id="cmt_channel_map"><rect class="cb" x="1064.5" y="1710" width="130.5" height="26"/><text class="ct"><tspan x="1065.5" y="1720">TODO: Explain the order</tspan><tspan x="1065.5" y="1733">of the channel map</tspan></text></g>
<g id="var_channel_map_disabled" transform="translate(1260,1718.5) rotate(-90)"><rect class="g" x="0" y="0" width="141.5" height="59"/><text class="t" x="70.75" y="17">Variable</text><text class="p" x="7" y="33"><tspan class="k">ID:</tspan> channel_map</text><text class="p" x="7" y="49"><tspan class="k">Value:</tspan> 4, 5, 6, 7, 0, 1, 2, 3</text></g>

<!-- Connectors -->
<g id="connectors">
<path class="wg" d="M209.5,448 H244.5"/>
<path class="w" d="M907.5,448 H932"/>
<path class="w" d="M1090,448 H1116"/>
<path class="w" d="M187.5,600 H234.5 V648 H300"/>
<path class="w" d="M527,648 H541 V704.5 H571.5"/>
<path class="w" d="M1045,704.5 H1081.5"/>
<path class="w" d="M204.5,1008.5 H251.5 V1048.5 H316"/>
<path class="w" d="M521.5,929 H530 V928.5 H556"/>
<path class="w" d="M521.5,963 H530 V960.5 H556"/>
<path class="w" d="M521.5,997 H530 V1000.5 H556"/>
<path class="w" d="M521.5,1031 H530 V1032.5 H556"/>
<path class="w" d="M521.5,1065 H530 V1064.5 H556"/>
<path class="w" d="M521.5,1099 H530 V1096.5 H556"/>
<path class="w" d="M521.5,1133 H530 V1128.5 H556"/>
<path class="w" d="M521.5,1167 H530 V1168.5 H556"/>
<path class="w" d="M1087,928.5 H1096 V929 H1110.5"/>
<path class="w" d="M1087,960.5 H1096 V963 H1110.5"/>
<path class="w" d="M1087,1000.5 H1096 V997 H1110.5"/>
<path class="w" d="M1087,1032.5 H1096 V1031 H1110.5"/>
<path class="w" d="M1087,1064.5 H1096 V1065 H1110.5"/>
<path class="w" d="M1087,1096.5 H1096 V1099 H1110.5"/>
<path class="w" d="M1087,1128.5 H1096 V1133 H1110.5"/>
<path class="w" d="M1087,1168.5 H1096 V1167 H1110.5"/>
<path class="w" d="M158.5,1424.5 H204.5"/>
<path class="w" d="M158.5,1456.5 H204.5"/>
<path class="w" d="M158.5,1496.5 H204.5"/>
<path class="w" d="M158.5,1528.5 H204.5"/>
<path class="w" d="M158.5,1560.5 H204.5"/>
<path class="w" d="M158.5,1592.5 H204.5"/>
<path class="w" d="M158.5,1624.5 H204.5"/>
<path class="w" d="M158.5,1656.5 H204.5"/>
<path class="w" d="M349,1424.5 H359 V1425 H387"/>
<path class="w" d="M349,1456.5 H359 V1459 H387"/>
<path class="w" d="M349,1496.5 H359 V1493 H387"/>
<path class="w" d="M349,1528.5 H359 V1527 H387"/>
<path class="w" d="M349,1560.5 H359 V1561 H387"/>
<path class="w" d="M349,1592.5 H359 V1595 H387"/>
<path class="w" d="M349,1624.5 H359 V1629 H387"/>
<path class="w" d="M349,1656.5 H359 V1663 H387"/>
<path class="w" d="M468.5,1544.5 H508"/>
<path class="w" d="M849.5,1368 H921"/>
<path class="w" d="M849.5,1368 H862 V1472 H891.5"/>
<path class="w" d="M1069.5,1472 H1107.5"/>
</g>
</svg>
